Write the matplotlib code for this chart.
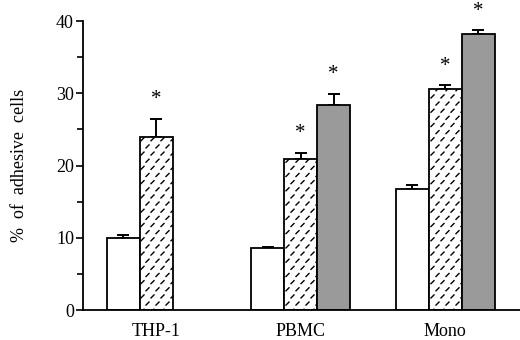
import warnings
warnings.filterwarnings("ignore")
import numpy as np
import matplotlib
matplotlib.use("Agg")
import matplotlib.pyplot as plt
import matplotlib.hatch as mhatch
from matplotlib.path import Path

groups = ["THP-1", "PBMC", "Mono"]
series_names = ["control", "treated A", "treated B"]
values = [
    [9.9, 8.6, 16.8],    # white
    [24.0, 20.9, 30.6],  # dashed pattern
    [np.nan, 28.4, 38.2],  # gray stipple
]
errors = [
    [0.5, 0.15, 0.5],
    [2.5, 0.9, 0.5],
    [np.nan, 1.5, 0.5],
]
significant = [
    [False, False, False],
    [True, True, True],
    [False, True, True],
]
yticks = [0, 10, 20, 30, 40]


class DashHatch(mhatch.HatchPatternBase):
    """Short '/' dashes on a staggered lattice."""
    def __init__(self, hatch, density):
        n = hatch.count('d')
        self.cols = 10 if n else 0
        self.rows = 14 if n else 0
        self.num_vertices = self.cols * self.rows * 2

    def set_vertices_and_codes(self, vertices, codes):
        d = 0.015
        k = 0
        for r in range(self.rows):
            yc = (r + 0.5) / self.rows
            off = 0.5 if r % 2 else 0.0
            for c in range(self.cols):
                xc = ((c + 0.25 + off) / self.cols) % 1.0
                vertices[2 * k] = (xc - d, yc - d)
                vertices[2 * k + 1] = (xc + d, yc + d)
                codes[2 * k] = Path.MOVETO
                codes[2 * k + 1] = Path.LINETO
                k += 1


mhatch._hatch_types.append(DashHatch)

plt.rcParams['font.family'] = ['Liberation Serif', 'DejaVu Serif']
plt.rcParams['hatch.linewidth'] = 1.0
plt.rcParams['hatch.color'] = 'black'

fig = plt.figure(figsize=(5.2, 3.4), dpi=100)
ax = fig.add_axes([0.1596, 0.0882, 0.8404, 0.85])

x = np.arange(len(groups))
width = 0.228
styles = [
    dict(facecolor='white', hatch=None),
    dict(facecolor='white', hatch='d'),
    dict(facecolor='#9a9a9a', hatch=None),
]
for i, (vals, errs, sig, st) in enumerate(zip(values, errors, significant, styles)):
    xs = x + (i - 1) * width
    vals = np.array(vals, dtype=float)
    errs = np.array(errs, dtype=float)
    mask = ~np.isnan(vals)
    ax.bar(xs[mask], vals[mask], width=width, facecolor=st['facecolor'],
           edgecolor='black', linewidth=1.3, hatch=st['hatch'], zorder=2)
    ax.errorbar(xs[mask], vals[mask],
                yerr=[np.zeros(mask.sum()), errs[mask]],
                fmt='none', ecolor='black', elinewidth=1.4, capsize=4.5,
                capthick=1.4, zorder=1)
    for xi, v, e, s in zip(xs, vals, errs, sig):
        if s and not np.isnan(v):
            ax.annotate('*', (xi, v + e), xytext=(0, 7), textcoords='offset points',
                        ha='center', va='bottom', fontsize=15, annotation_clip=False)

ax.set_xlim(-0.505, 2.516)
ax.set_ylim(0, 40)
ax.set_yticks(yticks)
ax.set_yticks(np.arange(5, 40, 10), minor=True)
ax.set_xticks(x)
ax.set_xticklabels(groups, fontsize=13)
ax.tick_params(axis='x', length=0, pad=9)
ax.tick_params(axis='y', which='major', direction='out', length=5, width=1.2,
               labelsize=13, pad=1.5)
ax.tick_params(axis='y', which='minor', direction='out', length=4, width=1.2)
ax.spines['top'].set_visible(False)
ax.spines['right'].set_visible(False)
ax.spines['left'].set_linewidth(1.3)
ax.spines['bottom'].set_linewidth(1.3)
ax.set_ylabel('%  of  adhesive  cells', fontsize=13, labelpad=20)

fig.savefig('out.png', dpi=100)
